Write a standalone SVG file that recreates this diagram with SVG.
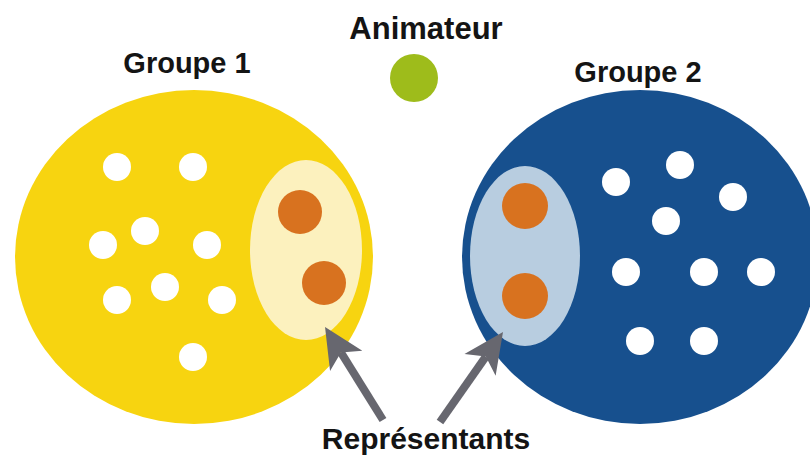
<svg xmlns="http://www.w3.org/2000/svg" width="810" height="456" viewBox="0 0 810 456">
<style>
.lbl{font-family:"Liberation Sans",Arial,sans-serif;font-weight:bold;fill:#141414;text-anchor:middle}
.w{fill:#ffffff}
.o{fill:#D8721F}
.arrow{stroke:#67676F;stroke-width:8;fill:none;marker-end:url(#head)}
</style>
<defs>
<marker id="head" markerUnits="userSpaceOnUse" orient="auto" viewBox="-15 -25 50 50" refX="0" refY="0" markerWidth="50" markerHeight="50">
<path d="M30,0 L-10,-19 L0,0 L-10,19 Z" fill="#67676F"/>
</marker>
</defs>
<rect width="810" height="456" fill="#ffffff"/>
<g id="animateur">
<text class="lbl" x="426" y="39" font-size="31">Animateur</text>
<circle cx="414" cy="78" r="24" fill="#9EBC1B"/>
</g>
<g id="groupe1">
<text class="lbl" x="187" y="73" font-size="29">Groupe 1</text>
<ellipse cx="194" cy="257" rx="179" ry="167" fill="#F7D410"/>
<circle class="w" cx="117" cy="167" r="14"/>
<circle class="w" cx="193" cy="167" r="14"/>
<circle class="w" cx="145" cy="231" r="14"/>
<circle class="w" cx="103" cy="245" r="14"/>
<circle class="w" cx="207" cy="245" r="14"/>
<circle class="w" cx="165" cy="287" r="14"/>
<circle class="w" cx="117" cy="300" r="14"/>
<circle class="w" cx="222" cy="300" r="14"/>
<circle class="w" cx="193" cy="357" r="14"/>
<g id="representants1">
<ellipse cx="306" cy="250" rx="56" ry="90" fill="#FCF1BE"/>
<circle class="o" cx="300" cy="212" r="22"/>
<circle class="o" cx="324" cy="283" r="22"/>
</g>
</g>
<g id="groupe2">
<text class="lbl" x="638" y="82" font-size="29">Groupe 2</text>
<ellipse cx="640" cy="257" rx="178" ry="167" fill="#17508E"/>
<circle class="w" cx="616" cy="182" r="14"/>
<circle class="w" cx="680" cy="165" r="14"/>
<circle class="w" cx="733" cy="197" r="14"/>
<circle class="w" cx="666" cy="221" r="14"/>
<circle class="w" cx="626" cy="272" r="14"/>
<circle class="w" cx="704" cy="272" r="14"/>
<circle class="w" cx="761" cy="272" r="14"/>
<circle class="w" cx="640" cy="341" r="14"/>
<circle class="w" cx="704" cy="341" r="14"/>
<g id="representants2">
<ellipse cx="525" cy="256" rx="55" ry="90" fill="#B8CDE0"/>
<circle class="o" cx="525" cy="206" r="23"/>
<circle class="o" cx="525" cy="296" r="23"/>
</g>
</g>
<g id="connectors">
<line class="arrow" x1="383" y1="420" x2="340.9" y2="352.4"/>
<line class="arrow" x1="440" y1="422" x2="485.8" y2="356.6"/>
</g>
<g id="label-representants">
<text class="lbl" x="426" y="449" font-size="30">Représentants</text>
</g>
</svg>
